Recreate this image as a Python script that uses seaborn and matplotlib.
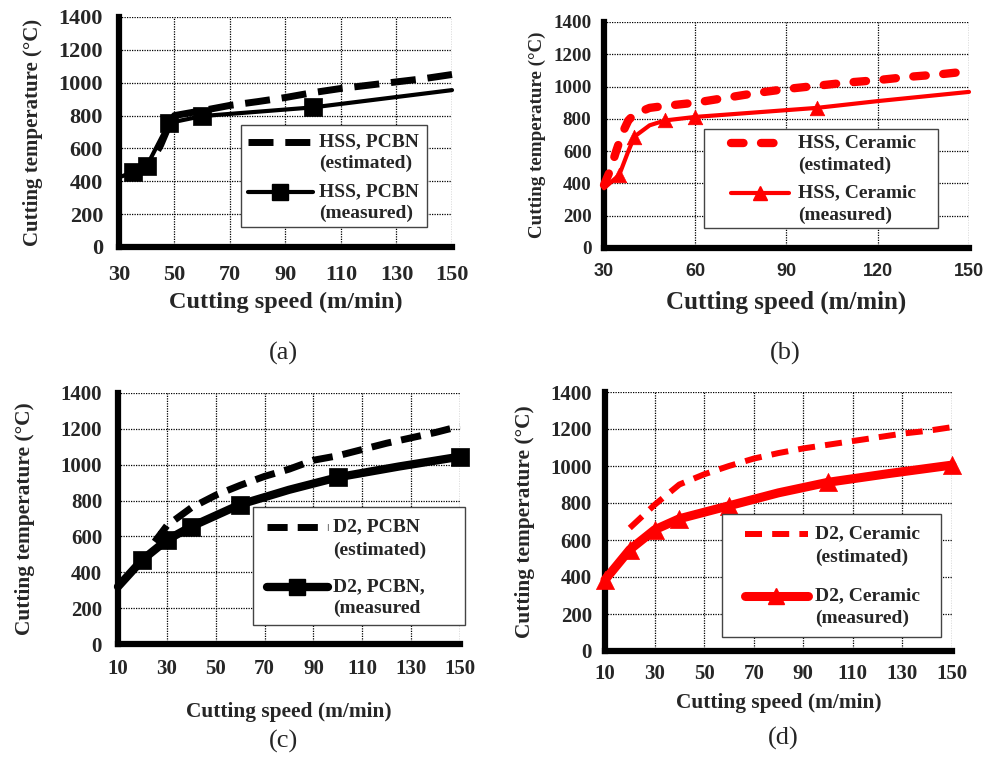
import matplotlib
matplotlib.use("Agg")
import matplotlib.pyplot as plt
import seaborn as sns
import pandas as pd
from matplotlib.lines import Line2D
from matplotlib.patches import Rectangle

# ---------------- data ----------------
# (a) HSS workpiece, PCBN tool
a_est_x = [35, 40, 45, 48, 50, 60, 70, 80, 90, 100, 110, 120, 130, 140, 150]
a_est_y = [445, 470, 620, 740, 800, 830, 862, 885, 910, 940, 965, 985, 1005, 1025, 1050]
a_mea_line_x = [31, 35, 40, 48, 60, 100, 150]
a_mea_line_y = [430, 456, 493, 755, 797, 850, 955]
a_mea_x = [35, 40, 48, 60, 100]
a_mea_y = [456, 493, 755, 797, 850]

# (b) HSS workpiece, Ceramic tool
b_est_x = [30, 32, 34, 36, 38, 40, 45, 50, 60, 70, 80, 90, 100, 110, 120, 130, 140, 150]
b_est_y = [390, 480, 600, 710, 790, 830, 868, 880, 900, 930, 960, 985, 1005, 1025, 1040, 1060, 1075, 1095]
b_mea_line_x = [30, 35, 38, 40, 45, 50, 60, 80, 100, 120, 150]
b_mea_line_y = [370, 452, 600, 690, 760, 790, 812, 840, 868, 910, 967]
b_mea_x = [35, 40, 50, 60, 100]
b_mea_y = [452, 690, 790, 812, 868]

# (c) D2 workpiece, PCBN tool
c_est_x = [25, 30, 40, 50, 60, 70, 80, 90, 100, 110, 120, 130, 140, 150]
c_est_y = [570, 660, 760, 830, 885, 935, 975, 1025, 1050, 1085, 1120, 1150, 1180, 1215]
c_mea_line_x = [10, 20, 30, 40, 60, 80, 100, 125, 150]
c_mea_line_y = [320, 470, 580, 655, 778, 860, 930, 990, 1045]
c_mea_x = [20, 30, 40, 60, 100, 150]
c_mea_y = [470, 580, 655, 778, 930, 1045]

# (d) D2 workpiece, Ceramic tool
d_est_x = [20, 30, 40, 50, 60, 70, 80, 90, 100, 110, 120, 130, 140, 150]
d_est_y = [665, 790, 900, 955, 1000, 1040, 1070, 1095, 1115, 1135, 1155, 1175, 1190, 1210]
d_mea_line_x = [10, 20, 30, 40, 60, 80, 100, 125, 150]
d_mea_line_y = [385, 548, 655, 715, 785, 855, 912, 960, 1005]
d_mea_x = [10, 20, 30, 40, 60, 100, 150]
d_mea_y = [385, 548, 655, 715, 785, 912, 1005]

y_ticks = [0, 200, 400, 600, 800, 1000, 1200, 1400]
a_xticks = [30, 50, 70, 90, 110, 130, 150]
b_xticks = [30, 60, 90, 120, 150]
cd_xticks = [10, 30, 50, 70, 90, 110, 130, 150]

a_labels = ["HSS, PCBN", "(estimated)", "HSS, PCBN", "(measured)"]
b_labels = ["HSS, Ceramic", "(estimated)", "HSS, Ceramic", "(measured)"]
c_labels = ["D2, PCBN", "(estimated)", "D2, PCBN,", "(measured"]
d_labels = ["D2, Ceramic", "(estimated)", "D2, Ceramic", "(measured)"]
panel_tags = ["(a)", "(b)", "(c)", "(d)"]
x_title = "Cutting speed (m/min)"
y_title = "Cutting temperature (°C)"

# ---------------- styling ----------------
sns.set_theme(style="white")
plt.rcParams["font.family"] = ["Liberation Serif", "DejaVu Serif"]
plt.rcParams["font.weight"] = "bold"

W, H = 995, 757
fig = plt.figure(figsize=(W / 100, H / 100), dpi=100)
fig.patch.set_facecolor("white")
RED = "#ff0000"


def make_ax(box):
    l, t, r, b = box
    return fig.add_axes([l / W, 1 - b / H, (r - l) / W, (b - t) / H])


def px2ax(box, px, py):
    l, t, r, b = box
    return (px - l) / (r - l), (b - py) / (b - t)


def style_ax(ax, box, xlim, xticks, tick_fs, xpad, ypad, xlab_fs, ylab_fs,
             ylab_px, xlab_py, xtick_family=None, ytick_fs=None):
    ax.set_xlim(*xlim)
    ax.set_ylim(0, 1400)
    ax.set_xticks(xticks)
    ax.set_yticks(y_ticks)
    ax.set_axisbelow(True)
    ax.grid(True, color="black", linestyle=(0, (1, 1)), linewidth=0.9)
    for s in ["top", "right"]:
        ax.spines[s].set_visible(False)
    for s in ["left", "bottom"]:
        ax.spines[s].set_linewidth(4.5)
        ax.spines[s].set_color("black")
        ax.spines[s].set_capstyle("projecting")
    ax.tick_params(axis="x", direction="out", length=3, width=3, color="black", pad=xpad)
    ax.tick_params(axis="y", direction="out", length=3, width=3, color="black", pad=ypad)
    for lab in ax.get_yticklabels():
        lab.set_fontsize(ytick_fs if ytick_fs else tick_fs)
        lab.set_fontweight("bold")
        lab.set_family(["Liberation Serif", "DejaVu Serif"])
    for lab in ax.get_xticklabels():
        lab.set_fontsize(tick_fs)
        lab.set_fontweight("bold")
        lab.set_family(xtick_family if xtick_family else ["Liberation Serif", "DejaVu Serif"])
    ax.set_xlabel(x_title, fontsize=xlab_fs, fontweight="bold")
    ax.set_ylabel(y_title, fontsize=ylab_fs, fontweight="bold")
    fx, _ = px2ax(box, ylab_px, 0)
    _, fy = px2ax(box, 0, xlab_py)
    ax.yaxis.set_label_coords(fx, 0.5)
    ax.yaxis.label.set_va("center")
    ax.xaxis.set_label_coords(0.5, fy)
    ax.xaxis.label.set_va("center")


def draw_series(ax, ex, ey, lx, ly, mx, my, color, est_lw, est_dash, est_cap,
                mea_lw, marker, msize):
    df_e = pd.DataFrame({"x": ex, "y": ey})
    df_l = pd.DataFrame({"x": lx, "y": ly})
    df_m = pd.DataFrame({"x": mx, "y": my})
    sns.lineplot(data=df_e, x="x", y="y", ax=ax, color=color, linewidth=est_lw,
                 linestyle=(0, est_dash), dash_capstyle=est_cap, sort=False,
                 estimator=None, zorder=3, clip_on=False)
    sns.lineplot(data=df_l, x="x", y="y", ax=ax, color=color, linewidth=mea_lw,
                 sort=False, estimator=None, zorder=4, clip_on=False,
                 solid_capstyle="round")
    sns.scatterplot(data=df_m, x="x", y="y", ax=ax, color=color, marker=marker,
                    s=msize, edgecolor=color, linewidth=0.5, zorder=5, clip_on=False)
    ax.set_xlabel("")
    ax.set_ylabel("")


def draw_legend(ax, box, rect, h_x0, h_x1, ys, text_x, color, est_lw, est_dash,
                est_cap, mea_lw, marker, msz, labels, fs=14):
    x0, y0, x1, y1 = rect
    ax0, ay1 = px2ax(box, x0, y1)
    ax1, ay0 = px2ax(box, x1, y0)
    ax.add_patch(Rectangle((ax0, ay1), ax1 - ax0, ay0 - ay1, transform=ax.transAxes,
                           facecolor="white", edgecolor="#444444", linewidth=1.0,
                           zorder=6, clip_on=False))
    hx0, _ = px2ax(box, h_x0, 0)
    hx1, _ = px2ax(box, h_x1, 0)
    _, hy_e = px2ax(box, 0, ys[0])
    _, hy_m = px2ax(box, 0, ys[2])
    ax.add_line(Line2D([hx0, hx1], [hy_e, hy_e], transform=ax.transAxes, color=color,
                       linewidth=est_lw, linestyle=(0, est_dash), dash_capstyle=est_cap,
                       zorder=7, clip_on=False))
    ax.add_line(Line2D([hx0, (hx0 + hx1) / 2, hx1], [hy_m, hy_m, hy_m],
                       transform=ax.transAxes, color=color, linewidth=mea_lw,
                       marker=marker, markersize=msz, markevery=[1],
                       zorder=7, clip_on=False))
    tx, _ = px2ax(box, text_x, 0)
    for lab, py in zip(labels, ys):
        _, ty = px2ax(box, 0, py)
        ax.text(tx, ty, lab, transform=ax.transAxes, ha="left", va="center",
                fontsize=fs, fontweight="bold", zorder=8, clip_on=False)


# ---------------- (a) ----------------
A = (119, 17, 452, 247)
axa = make_ax(A)
draw_series(axa, a_est_x, a_est_y, a_mea_line_x, a_mea_line_y, a_mea_x, a_mea_y,
            "black", 5, (3.6, 1.7), "butt", 3, "s", 150)
style_ax(axa, A, (30, 150), a_xticks, 16, 10, 8.5, 17.5, 15, 33, 302)
draw_legend(axa, A, (241, 125, 427, 227), 248, 313, [142, 163, 192, 213], 319,
            "black", 5, (3.6, 1.7), "butt", 3, "s", 11, a_labels)

# ---------------- (b) ----------------
B = (604, 22, 969, 248)
axb = make_ax(B)
draw_series(axb, b_est_x, b_est_y, b_mea_line_x, b_mea_line_y, b_mea_x, b_mea_y,
            RED, 6, (1.5, 2.1), "round", 3, "^", 110)
style_ax(axb, B, (30, 150), b_xticks, 13, 8, 6, 18, 13.7, 537, 302,
         xtick_family=["Liberation Sans", "DejaVu Sans"], ytick_fs=13.7)
draw_legend(axb, B, (704, 129, 938, 228), 731, 789, [143, 165, 193, 215], 798,
            RED, 6, (1.5, 2.1), "round", 3, "^", 10, b_labels)

# ---------------- (c) ----------------
C = (118, 393, 460, 644)
axc = make_ax(C)
draw_series(axc, c_est_x, c_est_y, c_mea_line_x, c_mea_line_y, c_mea_x, c_mea_y,
            "black", 5, (2.9, 1.45), "butt", 6, "s", 180)
style_ax(axc, C, (10, 150), cd_xticks, 15, 8, 8.5, 15.4, 15.4, 25, 712)
draw_legend(axc, C, (253, 507, 465, 625), 267, 328, [527, 550, 587, 608], 333,
            "black", 5, (2.9, 1.45), "butt", 6, "s", 11, c_labels)

# ---------------- (d) ----------------
D = (605, 392, 952, 651)
axd = make_ax(D)
draw_series(axd, d_est_x, d_est_y, d_mea_line_x, d_mea_line_y, d_mea_x, d_mea_y,
            RED, 4.3, (2.85, 1.7), "butt", 6.5, "^", 170)
style_ax(axd, D, (10, 150), cd_xticks, 15, 6.5, 6.5, 15.4, 15.4, 525, 703)
draw_legend(axd, D, (722, 514, 941, 637), 745, 808, [534, 557, 596, 618], 815,
            RED, 4.3, (2.85, 1.7), "butt", 6.5, "^", 11, d_labels)

# ---------------- panel tags ----------------
for tag, (px, py) in zip(panel_tags, [(283, 353), (785, 353), (284, 741), (783, 738)]):
    fig.text(px / W, 1 - py / H, tag, ha="center", va="center", fontsize=19,
             fontweight="normal", family=["Liberation Serif", "DejaVu Serif"])

fig.savefig("out.png", dpi=100, facecolor="white")
